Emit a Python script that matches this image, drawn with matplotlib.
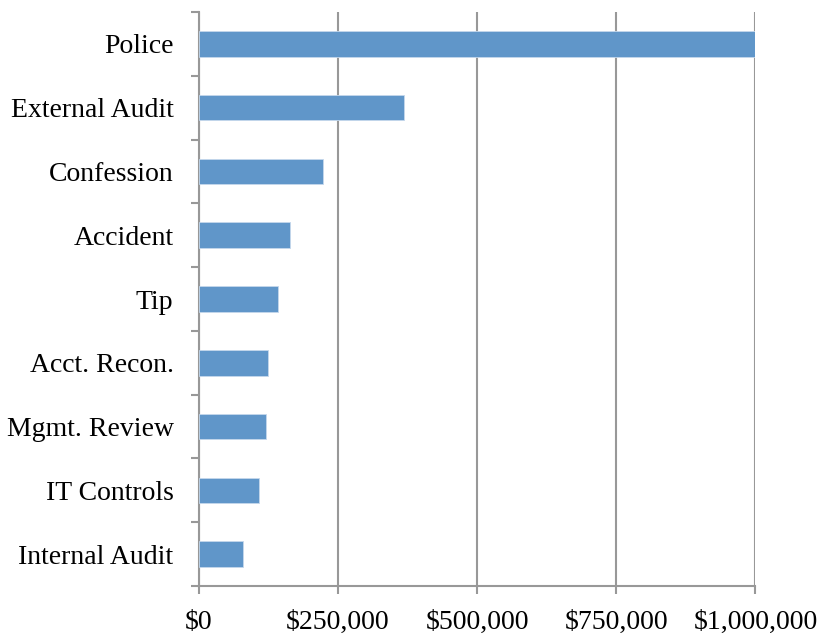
import matplotlib
matplotlib.use("Agg")
import matplotlib.pyplot as plt
import numpy as np
from matplotlib.ticker import FuncFormatter, FixedLocator

# median loss by detection method, top to bottom as drawn
methods = ["Police", "External Audit", "Confession", "Accident", "Tip",
           "Acct. Recon.", "Mgmt. Review", "IT Controls", "Internal Audit"]
losses = [1000000, 369000, 224000, 165000, 143000, 124000, 122000, 108000, 79000]

plt.rcParams['font.family'] = ['Liberation Serif', 'DejaVu Serif']

fig = plt.figure(figsize=(8.17, 6.36), dpi=100)
ax = fig.add_axes([0.243, 0.0786, 0.6817, 0.9025])

grey = '#989898'
pos = np.arange(len(methods))[::-1]
ax.barh(pos, losses, height=0.4, color='#6096C9', edgecolor='#C5D8EC',
        linewidth=0.6, zorder=3)

ax.set_xlim(0, 1000000)
ax.set_ylim(-0.5, len(methods) - 0.5)
ax.set_xticks([0, 250000, 500000, 750000, 1000000])
ax.xaxis.set_major_formatter(FuncFormatter(lambda v, _: f"${v:,.0f}"))
ax.set_yticks(pos)
ax.set_yticklabels(methods)
ax.yaxis.set_minor_locator(FixedLocator(np.arange(-0.5, len(methods), 1.0)))

ax.grid(axis='x', color=grey, linewidth=1.5, zorder=0)
for side in ('top', 'right'):
    ax.spines[side].set_visible(False)
for side in ('left', 'bottom'):
    ax.spines[side].set_color(grey)
    ax.spines[side].set_linewidth(1.5)

ax.tick_params(axis='y', which='major', length=0, pad=18, labelsize=20)
ax.tick_params(axis='y', which='minor', length=6, width=1.5, color=grey)
ax.tick_params(axis='x', length=6, width=1.5, color=grey, pad=11, labelsize=20)

fig.savefig("out.png", dpi=100)
